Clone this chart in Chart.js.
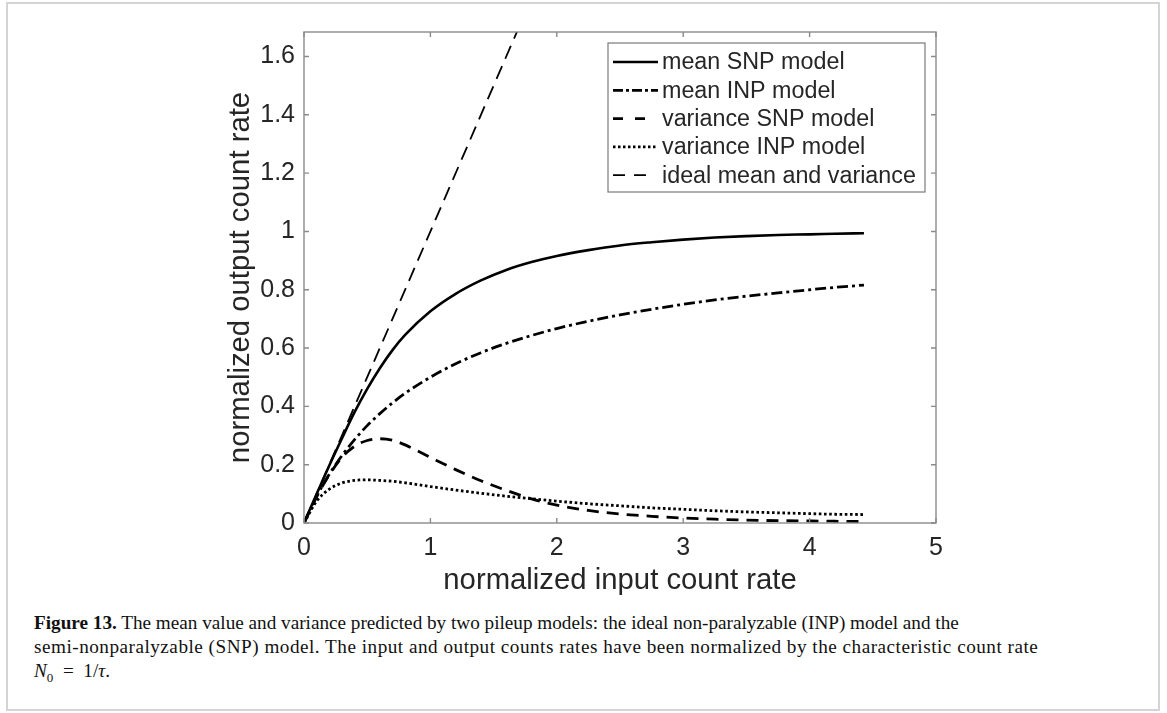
<!DOCTYPE html>
<html><head><meta charset="utf-8">
<script src="https://cdn.jsdelivr.net/npm/chart.js@4.4.1/dist/chart.umd.min.js"></script>
<style>
html,body{margin:0;padding:0;background:#fff;}
body{width:1167px;height:713px;position:relative;overflow:hidden;}
#frame{position:absolute;left:6px;top:2px;width:1154px;height:709px;border:2px solid #d4d4d4;box-sizing:border-box;}
#c{position:absolute;left:0;top:0;}
#cap{position:absolute;left:34px;top:611px;white-space:nowrap;font-family:"Liberation Serif","Times New Roman",serif;font-size:19.2px;line-height:24px;color:#111;}
#cap div{height:24px;}
</style></head><body>
<div id="frame"></div>
<canvas id="c" width="1167" height="600"></canvas>
<div id="cap"><div><b>Figure 13.</b> The mean value and variance predicted by two pileup models: the ideal non-paralyzable (INP) model and the</div><div style="letter-spacing:0.5px">semi-nonparalyzable (SNP) model. The input and output counts rates have been normalized by the characteristic count rate</div><div><i>N</i><sub style="font-size:13px">0</sub>&ensp;=&ensp;1/<i>τ</i>.</div></div>
<script>
// ---- data ----
const xValues   = [0,0.1,0.2,0.3,0.4,0.5,0.6,0.7,0.8,1.0,1.2,1.4,1.6,1.8,2.0,2.25,2.5,2.75,3.0,3.25,3.5,3.75,4.0,4.2,4.43];
const meanSNP   = [0,0.0997,0.197,0.29,0.38,0.46,0.531,0.593,0.645,0.726,0.786,0.832,0.868,0.895,0.916,0.936,0.952,0.963,0.972,0.979,0.984,0.988,0.990,0.992,0.994];
const meanINP   = [0,0.091,0.167,0.231,0.286,0.334,0.375,0.412,0.445,0.5,0.546,0.584,0.616,0.643,0.667,0.692,0.714,0.733,0.75,0.765,0.778,0.789,0.8,0.808,0.816];
const varSNP    = [0,0.09,0.165,0.225,0.263,0.283,0.289,0.284,0.268,0.225,0.183,0.145,0.112,0.083,0.061,0.043,0.031,0.023,0.017,0.013,0.010,0.008,0.007,0.006,0.005];
const varINP    = [0,0.075,0.116,0.137,0.146,0.148,0.146,0.143,0.138,0.125,0.113,0.102,0.092,0.083,0.075,0.066,0.059,0.052,0.047,0.042,0.038,0.035,0.032,0.030,0.029];
const idealX    = [0,1.75];
const idealY    = [0,1.75];
const seriesNames = ['mean SNP model','mean INP model','variance SNP model','variance INP model','ideal mean and variance'];
const xTicks = [0,1,2,3,4,5];
const xTickLabels = ['0','1','2','3','4','5'];
const yTicks = [0,0.2,0.4,0.6,0.8,1,1.2,1.4,1.6];
const yTickLabels = ['0','0.2','0.4','0.6','0.8','1','1.2','1.4','1.6'];
const xLabel = 'normalized input count rate';
const yLabel = 'normalized output count rate';

const SANS = '"Liberation Sans", Arial, Helvetica, sans-serif';
const TXT = '#262626';
const AX = '#8a8a8a';

const pts = (xs, ys) => xs.map((x,i)=>({x:x, y:ys[i]}));
const styles = [
  {dash:[], width:2.6, legDash:[], legLen:45},
  {dash:[11,4,3,4], width:2.8, legDash:[10,3,3,3], legLen:45},
  {dash:[12,8], width:2.8, legDash:[10,12], legLen:32},
  {dash:[2.6,2.6], width:2.8, legDash:[2.5,2.5], legLen:43},
  {dash:[14,8], width:1.8, legDash:[12,9], legLen:34}
];
const dataSets = [pts(xValues,meanSNP), pts(xValues,meanINP), pts(xValues,varSNP), pts(xValues,varINP), pts(idealX,idealY)];

const datasets = dataSets.map((d,i)=>({
  label: seriesNames[i], data: d,
  borderColor:'#000', backgroundColor:'#000',
  borderWidth: styles[i].width, borderDash: styles[i].dash,
  borderCapStyle:'butt', pointRadius:0, fill:false,
  cubicInterpolationMode:'monotone'
}));

const boxPlugin = {
  id:'boxLegend',
  afterDraw(chart){
    const {ctx, chartArea:a, scales:{x, y}} = chart;
    ctx.save();
    ctx.strokeStyle = AX; ctx.lineWidth = 1.4; ctx.setLineDash([]);
    ctx.strokeRect(a.left, a.top, a.right-a.left, a.bottom-a.top);
    const L = 5;
    ctx.beginPath();
    x.ticks.forEach(t=>{const p=x.getPixelForValue(t.value);
      ctx.moveTo(p,a.bottom); ctx.lineTo(p,a.bottom-L); ctx.moveTo(p,a.top); ctx.lineTo(p,a.top+L);});
    y.ticks.forEach(t=>{const p=y.getPixelForValue(t.value);
      ctx.moveTo(a.left,p); ctx.lineTo(a.left+L,p); ctx.moveTo(a.right,p); ctx.lineTo(a.right-L,p);});
    ctx.stroke();
    // legend box (MATLAB style, inside upper right)
    const lw = 317, lh = 149;
    const lx = a.right - 328, ly = a.top + 11;
    ctx.fillStyle = '#fff';
    ctx.fillRect(lx, ly, lw, lh);
    ctx.strokeStyle = '#7a7a7a'; ctx.lineWidth = 1.2;
    ctx.strokeRect(lx, ly, lw, lh);
    ctx.font = '23.3px ' + SANS;
    ctx.textBaseline = 'middle'; ctx.textAlign = 'left';
    chart.data.datasets.forEach((ds,i)=>{
      const cy = ly + 19 + i*28.3;
      const st = styles[i];
      ctx.strokeStyle = '#000';
      ctx.lineWidth = ds.borderWidth;
      ctx.lineCap = 'butt';
      ctx.setLineDash(st.legDash);
      ctx.beginPath(); ctx.moveTo(lx+5, cy); ctx.lineTo(lx+5+st.legLen, cy); ctx.stroke();
      ctx.setLineDash([]);
      ctx.fillStyle = TXT;
      ctx.fillText(ds.label, lx+54, cy+1);
    });
    ctx.restore();
  }
};

new Chart(document.getElementById('c'), {
  type:'line',
  data:{datasets},
  plugins:[boxPlugin],
  options:{
    responsive:false, animation:false, devicePixelRatio:1,
    layout:{padding:{left:214, top:32, right:231, bottom:0}},
    plugins:{legend:{display:false}, tooltip:{enabled:false}},
    scales:{
      x:{type:'linear', min:0, max:5, position:'bottom',
        afterBuildTicks: ax=>{ ax.ticks = xTicks.map(v=>({value:v})); },
        afterFit: ax=>{ ax.height = 77; },
        grid:{display:false, drawTicks:false}, border:{display:false},
        ticks:{padding:10, color:TXT, font:{family:SANS, size:25}, maxRotation:0, autoSkip:false,
          callback:(v,i)=>xTickLabels[i]},
        title:{display:true, text:xLabel, color:TXT, font:{family:SANS, size:29.3}, padding:{top:0,bottom:2}}
      },
      y:{type:'linear', min:0, max:1.684, position:'left',
        afterBuildTicks: ax=>{ ax.ticks = yTicks.map(v=>({value:v})); },
        afterFit: ax=>{ ax.width = 90; },
        grid:{display:false, drawTicks:false}, border:{display:false},
        ticks:{padding:9, color:TXT, font:{family:SANS, size:25}, autoSkip:false,
          callback:(v,i)=>yTickLabels[i]},
        title:{display:true, text:yLabel, color:TXT, font:{family:SANS, size:29.3}, padding:{top:9.3,bottom:0}}
      }
    }
  }
});
</script>
</body></html>
